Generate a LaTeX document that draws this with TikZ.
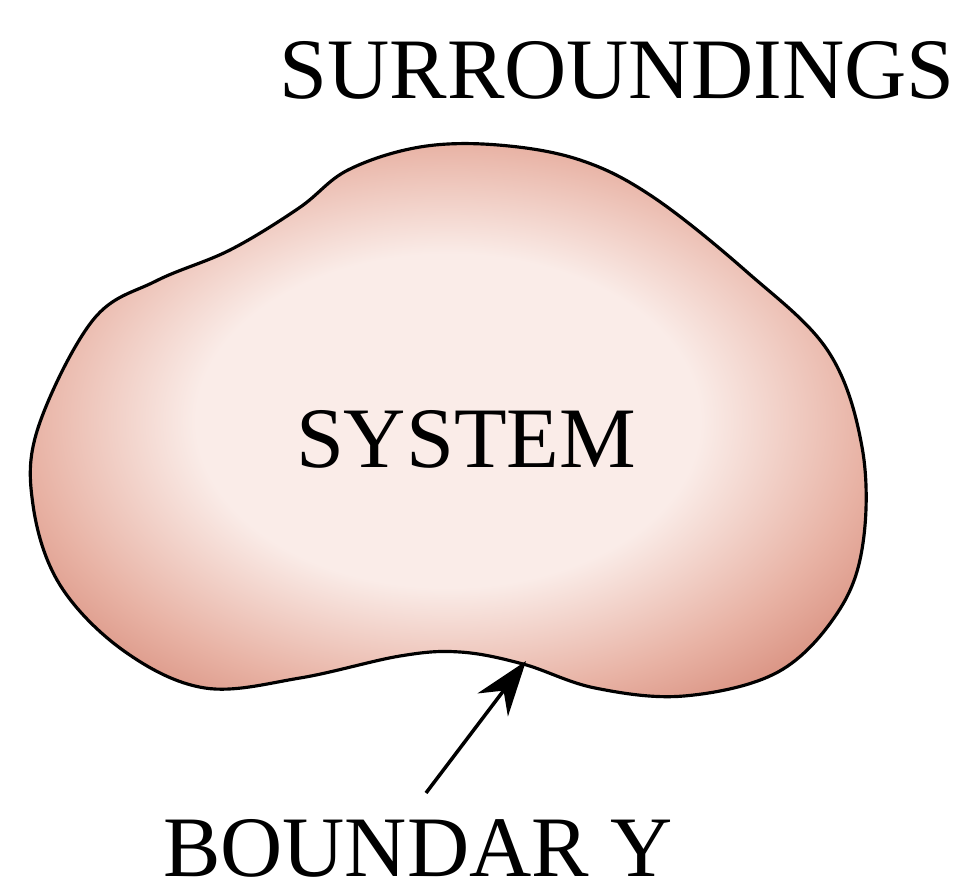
\documentclass[tikz,border=0pt]{standalone}
\usepackage{fontspec}
\setmainfont{Liberation Serif}
\usepackage{tikz}
\usetikzlibrary{arrows.meta}

\definecolor{syslight}{RGB}{250,236,232}
\definecolor{sysmid}{RGB}{232,178,164}
\definecolor{sysedge}{RGB}{208,126,108}
\pgfdeclareradialshading{sysshade}{\pgfpoint{0bp}{0bp}}{color(0bp)=(syslight); color(15bp)=(syslight); color(25bp)=(sysmid); color(34bp)=(sysedge); color(50bp)=(sysedge)}

\begin{document}
\begin{tikzpicture}[x=0.01cm, y=-0.01cm, txt/.style = {inner sep=0pt, anchor=base, font=\fontsize{24.5}{28}\selectfont}]
            \useasboundingbox (0,0) rectangle (971,892);

            % the system, a closed blob
            \path[draw=black, line width=0.9pt, shading=sysshade]
                plot[smooth cycle, tension=0.6] coordinates {
                (498,145) (580,160) (653,197) (747,272) (828,351) (862,447)
                (863,543) (838,612) (778,672) (684,696) (595,688) (523,664)
                (460,652) (400,656) (300,678) (205,688) (124,651) (60,585)
                (33,505) (38,428) (93,320) (156,281) (230,250) (299,208)
                (348,170) (420,147)};

            \node[txt] (Sur) at (617,99) {SURROUNDINGS};
            \node[txt] (Sys) at (466,468) {SYSTEM};
            \node[txt] (Bnd) at (418,876) {BOUNDAR Y};

            \coordinate (Tip) at (526,661);
            \draw[-{Stealth[length=5.5mm, width=3.8mm]}, line width=1pt] ([xshift=0.8mm, yshift=8.3mm]Bnd.base) -- (Tip);
        \end{tikzpicture}
\end{document}
